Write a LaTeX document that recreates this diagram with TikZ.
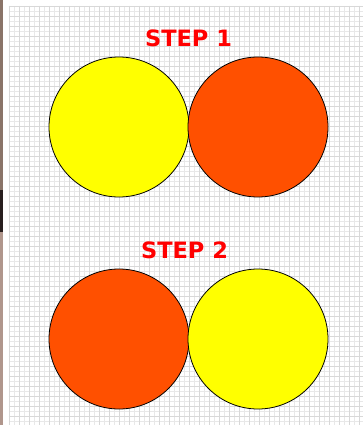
\documentclass[tikz,border=0pt]{standalone}
\usepackage{fontspec}
\newfontfamily\stepfont{DejaVu Sans}
\definecolor{sunyellow}{HTML}{FFFF00}
\definecolor{hotorange}{HTML}{FF5000}
\definecolor{steptext}{HTML}{FF0000}
\definecolor{gridgray}{HTML}{D8D8D8}
\definecolor{gridlight}{HTML}{E8E8E8}
\definecolor{photoA}{HTML}{8A7468}
\definecolor{photoB}{HTML}{281E1E}
\definecolor{photoC}{HTML}{B0968C}
\tikzset{
  disc/.style={circle, draw=black, line width=0.8pt, minimum size=140pt, inner sep=0pt},
  steplabel/.style={text=steptext, font=\stepfont\bfseries\fontsize{22.5}{24}\selectfont, inner sep=0pt},
}
\begin{document}
\begin{tikzpicture}[x=1pt,y=-1pt]
\useasboundingbox (0,0) rectangle (363,425);
\fill[white] (0,0) rectangle (363,425);
% photo edge on the left
\fill[photoA] (0,0) rectangle (3,190);
\fill[photoB] (0,190) rectangle (3,232);
\fill[photoC] (0,232) rectangle (3,425);
% grid
\begin{scope}
\clip (8.5,6) rectangle (363,425);
\foreach \i in {0,...,71} {
  \pgfmathsetmacro{\xx}{9+5*\i}
  \draw[gridlight, line width=0.6pt] (\xx,6) -- (\xx,425);
}
\foreach \j in {0,...,84} {
  \pgfmathsetmacro{\yy}{6+5*\j}
  \draw[gridlight, line width=0.6pt] (8.5,\yy) -- (363,\yy);
}
\foreach \i in {0,...,35} {
  \pgfmathsetmacro{\xx}{9+10*\i}
  \draw[gridgray, line width=0.6pt] (\xx,6) -- (\xx,425);
}
\foreach \j in {0,...,42} {
  \pgfmathsetmacro{\yy}{6+10*\j}
  \draw[gridgray, line width=0.6pt] (8.5,\yy) -- (363,\yy);
}
\end{scope}
% step 1
\node[steplabel] (t1) at (188.5,38) {STEP 1};
\node[disc, fill=sunyellow] (a1) at (119,127) {};
\node[disc, fill=hotorange] (b1) at (258,127) {};
% step 2
\node[steplabel] (t2) at (184.5,250) {STEP 2};
\node[disc, fill=hotorange] (a2) at (119,339) {};
\node[disc, fill=sunyellow] (b2) at (258,339) {};
\end{tikzpicture}
\end{document}
